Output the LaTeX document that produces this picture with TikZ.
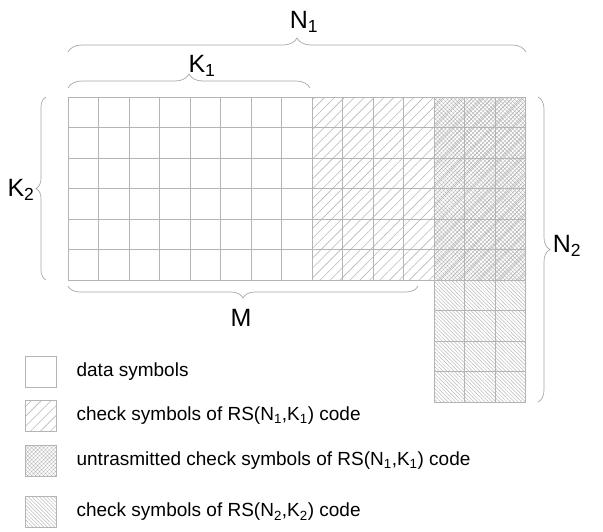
\documentclass[tikz,border=0pt]{standalone}
\usepackage{fontspec}
\setmainfont{Liberation Sans}
\usetikzlibrary{positioning,patterns,patterns.meta,decorations.pathreplacing}
\definecolor{gridgray}{HTML}{B4B4B4}
\definecolor{hatchgray}{HTML}{B8B8B8}
\definecolor{bracegray}{HTML}{A8A8A8}

\begin{document}
\begin{tikzpicture}[x=1pt,y=-1pt,
  cell/.style={draw=gridgray, line width=0.8pt},
  checkfill/.style={pattern={Lines[angle=45,distance=7pt,line width=0.6pt]}, pattern color=hatchgray},
  crossfill/.style={pattern={Hatch[angle=45,distance=2.8pt,line width=0.45pt]}, pattern color=hatchgray},
  rowfill/.style={pattern={Lines[angle=-45,distance=2.6pt,line width=0.5pt]}, pattern color=hatchgray},
  dim/.style={draw=bracegray, line width=0.7pt, decorate, decoration={brace, amplitude=#1}},
  lbl/.style={font=\fontsize{25}{25}\selectfont, inner sep=0pt},
  legbox/.style={draw=gridgray, line width=0.8pt, minimum size=31pt, inner sep=0pt},
  legtext/.style={font=\fontsize{19}{19}\selectfont, anchor=west, inner sep=0pt}]
  \useasboundingbox (0,0) rectangle (603,531);

  % coded regions
  \path[checkfill] (312,97) rectangle (434,280);
  \path[crossfill] (434,97) rectangle (526,280);
  \path[checkfill] (434,97) rectangle (526,280);
  \path[rowfill] (434,280) rectangle (526,402);

  % cells
  \foreach \i in {0,...,14}
    \foreach \j in {0,...,5}
      \draw[cell] ({68+30.5*\i},{97+30.5*\j}) rectangle ++(30.5,30.5);
  \foreach \i in {12,13,14}
    \foreach \j in {6,...,9}
      \draw[cell] ({68+30.5*\i},{97+30.5*\j}) rectangle ++(30.5,30.5);

  % braces
  \draw[dim=14pt] (68,52) -- (526,52);
  \draw[dim=14pt] (68,88) -- (310,88);
  \draw[dim=10pt] (46,280) -- (46,97);
  \draw[dim=12pt] (538,97) -- (538,402);
  \draw[dim=12pt] (418,286) -- (68,286);

  \node[lbl] (n1) at (304,22) {N\textsubscript{1}};
  \node[lbl] (k1) at (202,66) {K\textsubscript{1}};
  \node[lbl] (k2) at (21,190) {K\textsubscript{2}};
  \node[lbl] (n2) at (567,246) {N\textsubscript{2}};
  \node[lbl] (m) at (241,318) {M};

  % legend
  \node[legbox] (ldata) at (40.5,371.5) {};
  \node[legbox, checkfill] (lcheck) at (40.5,415.5) {};
  \node[legbox, crossfill] (lcross) at (40.5,460.5) {};
  \node[legbox, rowfill] (lrow) at (40.5,512) {};
  \node[legtext, right=20pt of ldata] (tdata) {data symbols};
  \node[legtext, right=20pt of lcheck] (tcheck) {check symbols of RS(N\textsubscript{1},K\textsubscript{1}) code};
  \node[legtext, right=20pt of lcross] (tcross) {untrasmitted check symbols of RS(N\textsubscript{1},K\textsubscript{1}) code};
  \node[legtext, right=20pt of lrow] (trow) {check symbols of RS(N\textsubscript{2},K\textsubscript{2}) code};
\end{tikzpicture}
\end{document}
